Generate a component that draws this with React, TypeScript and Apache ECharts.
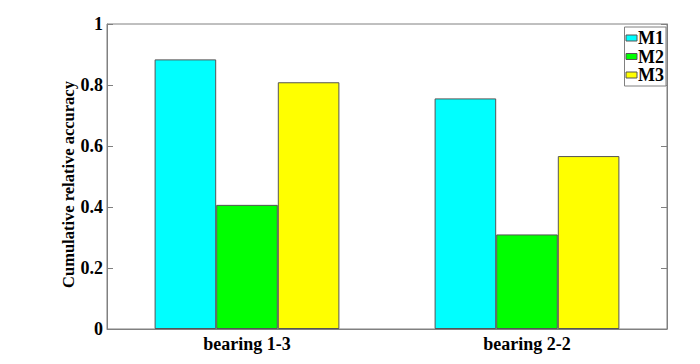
import React, { useEffect, useRef } from "react";
import * as echarts from "echarts";

const categories = ["bearing 1-3", "bearing 2-2"];
const seriesNames = ["M1", "M2", "M3"];
const m1 = [0.884, 0.756];
const m2 = [0.407, 0.31];
const m3 = [0.809, 0.567];
const colors = ["#00FFFF", "#00FF00", "#FFFF00"];
const yTicks = [0, 0.2, 0.4, 0.6, 0.8, 1];

const FONT = "'Liberation Serif', 'Times New Roman', serif";

export default function App() {
  const ref = useRef<HTMLDivElement>(null);
  useEffect(() => {
    if (!ref.current) return;
    const chart = echarts.init(ref.current, null, { renderer: "svg" });
    const values = [m1, m2, m3];
    const axisColor = "#808080";
    chart.setOption({
      animation: false,
      backgroundColor: "#ffffff",
      grid: {
        left: 99,
        top: 16,
        width: 560,
        height: 305,
        show: true,
        borderColor: axisColor,
        borderWidth: 1,
        backgroundColor: "transparent",
      },
      legend: {
        orient: "vertical",
        right: 26,
        top: 19,
        data: seriesNames,
        itemWidth: 11,
        itemHeight: 6,
        itemGap: 0.5,
        padding: [2, 2, 2, 1],
        borderColor: axisColor,
        borderWidth: 1,
        backgroundColor: "#ffffff",
        icon: "rect",
        textStyle: {
          fontFamily: FONT,
          fontWeight: "bold",
          fontSize: 18,
          color: "#000",
          padding: [0, 0, 0, -4],
          lineHeight: 18,
        },
        itemStyle: { borderColor: "#555", borderWidth: 1 },
      },
      xAxis: [
        {
          type: "category",
          data: categories,
          axisLine: { show: true, lineStyle: { color: axisColor } },
          axisTick: { show: true, inside: true, alignWithLabel: true, length: 5, lineStyle: { color: "#333" } },
          axisLabel: {
            fontFamily: FONT,
            fontWeight: "bold",
            fontSize: 18,
            color: "#000",
            margin: 6,
          },
          splitLine: { show: false },
        },
      ],
      yAxis: [
        {
          type: "value",
          min: 0,
          max: 1,
          interval: 0.2,
          name: "Cumulative relative accuracy",
          nameLocation: "middle",
          nameGap: 30,
          nameMoveOverlap: false,
          nameTextStyle: {
            fontFamily: FONT,
            fontWeight: "bold",
            fontSize: 16.5,
            color: "#000",
            padding: [0, 16, 0, 0],
          },
          axisLine: { show: true, lineStyle: { color: axisColor } },
          axisTick: { show: true, inside: true, length: 6, lineStyle: { color: axisColor } },
          axisLabel: {
            fontFamily: FONT,
            fontWeight: "bold",
            fontSize: 18,
            color: "#000",
            margin: 4,
            formatter: (v: number) => (yTicks.includes(Math.round(v * 10) / 10) ? String(Math.round(v * 10) / 10) : ""),
          },
          splitLine: { show: false },
        },
        {
          type: "value",
          min: 0,
          max: 1,
          interval: 0.2,
          position: "right",
          axisLine: { show: true, lineStyle: { color: axisColor } },
          axisTick: { show: true, inside: true, length: 6, lineStyle: { color: axisColor } },
          axisLabel: { show: false },
          splitLine: { show: false },
        },
      ],
      series: seriesNames.map((name, i) => ({
        name,
        type: "bar",
        data: values[i],
        barWidth: "22%",
        barGap: "0%",
        itemStyle: { color: colors[i], borderColor: "#555", borderWidth: 1 },
      })),
    });
    return () => chart.dispose();
  }, []);
  return <div ref={ref} style={{ width: 684, height: 348 }} />;
}
